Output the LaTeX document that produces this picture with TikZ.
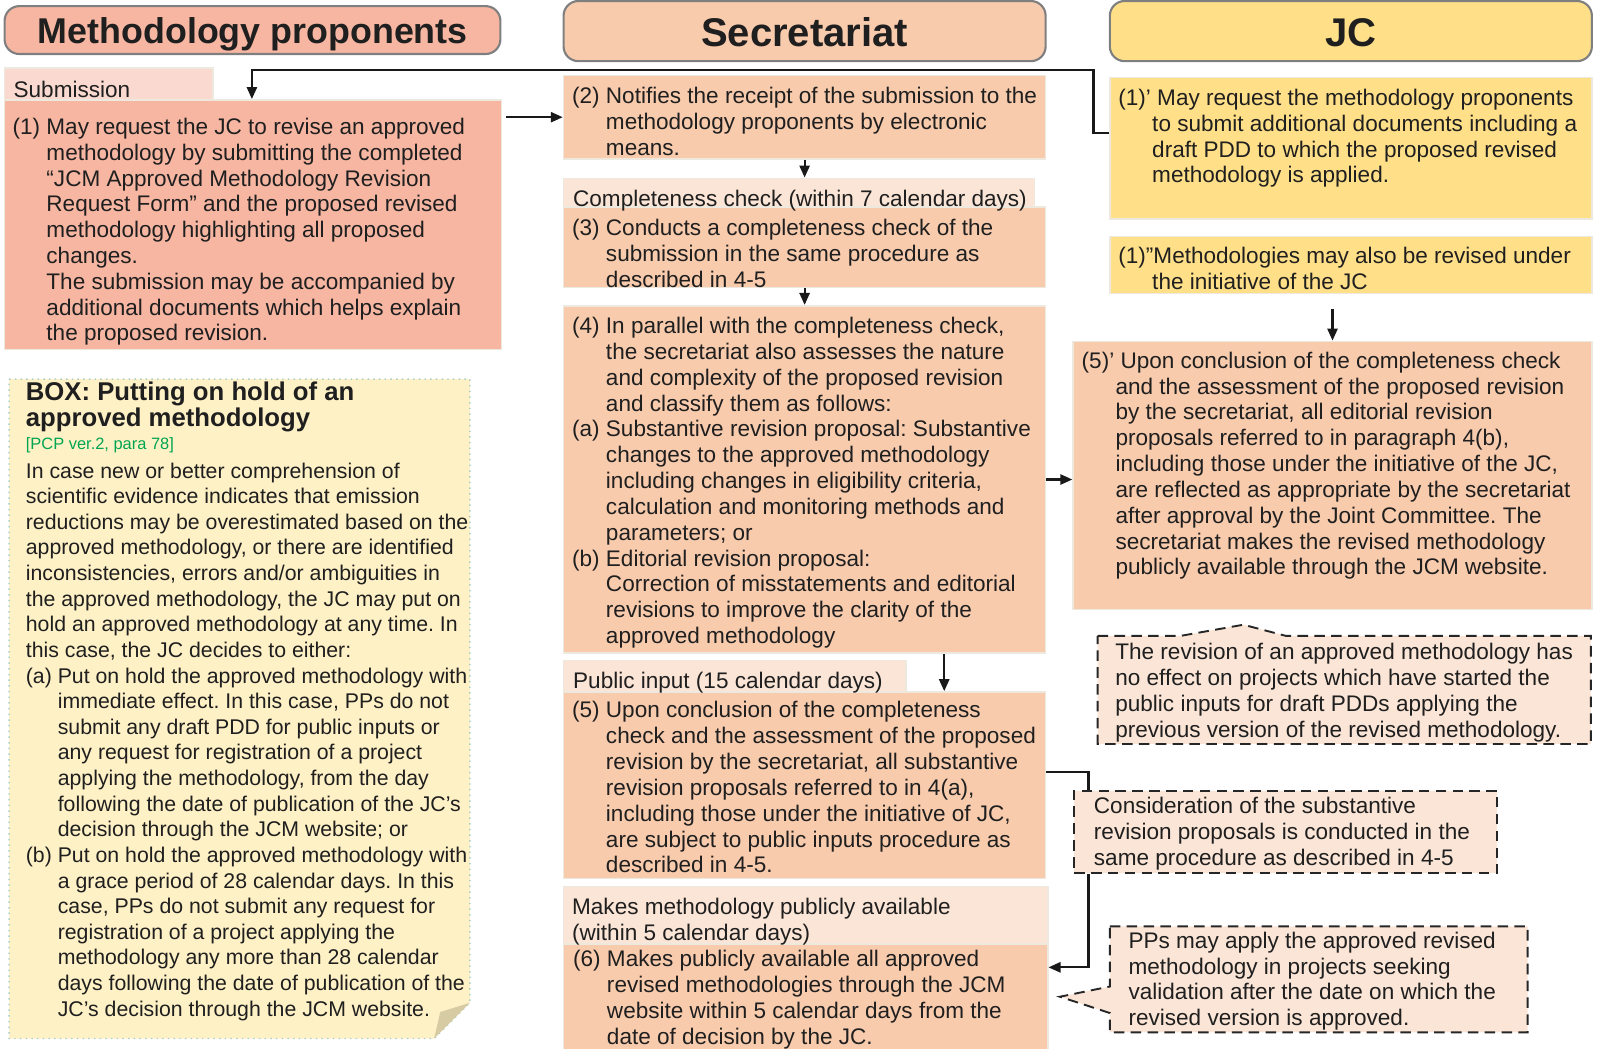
\documentclass[tikz,border=0pt]{standalone}
\usepackage{fontspec}
\setmainfont{Liberation Sans}
\usepackage{xcolor}
\usepackage{tikz}
\usetikzlibrary{arrows.meta,fit,calc}
\definecolor{salmon}{HTML}{F6B6A2}
\definecolor{salmonlight}{HTML}{FADAD0}
\definecolor{peach}{HTML}{F8CBAD}
\definecolor{peachlight}{HTML}{FBE5D6}
\definecolor{jcyellow}{HTML}{FFDF88}
\definecolor{cream}{HTML}{FFF1C6}
\definecolor{foldtan}{HTML}{D6CBA2}
\definecolor{edgegray}{HTML}{7F7F7F}
\definecolor{boxedge}{HTML}{EEE9DE}
\definecolor{refgreen}{HTML}{00A551}
\definecolor{dotteal}{HTML}{A9CFC6}
\newcommand{\refnote}[1]{\textcolor{refgreen}{#1}}
\newcommand{\tabin}{\hspace*{1.5em}}
\frenchspacing

\begin{document}
\begin{tikzpicture}[x=0.017cm,y=-0.017cm,
    head/.style={draw=edgegray,line width=1pt,rounded corners=7pt,inner sep=0pt},
    headtxt/.style={anchor=base,inner sep=0pt,text=black!88,font=\bfseries\fontsize{19}{22}\selectfont},
    box/.style={draw=boxedge,line width=0.8pt,inner sep=0pt},
    txt/.style={anchor=north west,inner sep=0pt,align=left,text=black!88,font=\fontsize{10.7}{12.25}\selectfont},
    note/.style={draw=black!85,line width=0.9pt,dash pattern=on 5pt off 3pt,fill=peachlight},
    arr/.style={-{Triangle[length=2mm,width=1.7mm]},line width=1pt,draw=black!90},
    link/.style={line width=1pt,draw=black!90}]
            \useasboundingbox (0,0) rectangle (1568,1029);
            % column heads
            \node[head,fill=salmon,fit={(4.5,6) (491,53)}] (1) {};
            \node[head,fill=peach,fit={(553,1) (1026,60)}] (2) {};
            \node[head,fill=jcyellow,fit={(1089,1) (1562,60)}] (3) {};
            \node[headtxt,font=\bfseries\fontsize{17}{20}\selectfont] (37) at (248,43) {Methodology proponents};
            \node[headtxt] (38) at (789.5,46) {Secretariat};
            \node[headtxt] (39) at (1325.5,46) {JC};
            % boxes
            \node[box,fill=salmonlight,fit={(4.5,67) (209,98)}] (4) {};
            \node[box,fill=salmon,fit={(4.5,98) (492,343)}] (6) {};
            \node[box,fill=peach,fit={(553,74) (1026,156)}] (8) {};
            \node[box,fill=peachlight,fit={(553,175) (1015,203)}] (10) {};
            \node[box,fill=peach,fit={(553,203) (1026,282)}] (12) {};
            \node[box,fill=peach,fit={(553,300) (1026,641)}] (14) {};
            \node[box,fill=peachlight,fit={(553,648) (889,679)}] (16) {};
            \node[box,fill=peach,fit={(553,679) (1026,862)}] (18) {};
            \node[box,fill=peachlight,fit={(553,870) (1028,926)}] (20) {};
            \node[box,fill=peach,fit={(553,926) (1028,1031)}] (22) {};
            \node[box,fill=jcyellow,fit={(1089,76) (1562,215)}] (24) {};
            \node[box,fill=jcyellow,fit={(1089,232) (1562,288)}] (26) {};
            \node[box,fill=peach,fit={(1053,335) (1562,598)}] (28) {};
            \node[note,inner sep=0pt,fit={(1054,776) (1469,857)}] (31) {};
            \draw[note] (1077,624) -- (1158,624) -- (1220,613) -- (1262,624) -- (1561,624) -- (1561,730) -- (1077,730) -- cycle;
            \draw[note] (1089,909) -- (1499,909) -- (1499,1013) -- (1089,1013) -- (1089,994) -- (1040,978) -- (1089,968) -- cycle;
            \draw[fill=cream,draw=dotteal,dotted,line width=0.7pt] (9,372) -- (461,372) -- (461,984) -- (426,1019) -- (9,1019) -- cycle;
            \fill[foldtan] (461,984) -- (432,993) -- (426,1019) -- cycle;
            % connectors
            \draw[arr,shorten <=0.07cm] (6.east |- 8.west) -- (8.west);
            \draw[arr] ($(24.north west)+(0,55)$) -| (1073,69) -| ($(6.north west)+(243.5,0)$);
            \draw[arr] (8.south) -- (8.south |- 10.north);
            \draw[arr] (12.south) -- (14.north);
            \draw[arr] ($(14.south)+(137,0)$) -- ($(18.north)+(137,0)$);
            \draw[arr] (14.east) -- (14.east -| 28.west);
            \draw[arr,shorten <=0.24cm] (26.south -| 28.north) -- (28.north);
            \draw[link] ($(18.north east)+(0,79)$) -| ($(31.north west)+(15,0)$);
            \draw[arr] ($(31.south west)+(15,0)$) |- ($(22.north east)+(0,24)$);
            % texts
            \node[txt] (5) at (13,79) {Submission};
            \node[txt] (7) at (12,115.5) {(1) May request the JC to revise an approved\\
                \tabin methodology by submitting the completed\\
                \tabin “JCM Approved Methodology Revision\\
                \tabin Request Form” and the proposed revised\\
                \tabin methodology highlighting all proposed\\
                \tabin changes.\\
                \tabin The submission may be accompanied by\\
                \tabin additional documents which helps explain\\
                \tabin the proposed revision.};
            \node[txt] (9) at (561,85) {(2) Notifies the receipt of the submission to the\\
                \tabin methodology proponents by electronic\\
                \tabin means.};
            \node[txt] (11) at (562,186) {Completeness check (within 7 calendar days)};
            \node[txt] (13) at (561,215) {(3) Conducts a completeness check of the\\
                \tabin submission in the same procedure as\\
                \tabin described in 4-5};
            \node[txt] (15) at (561,311) {(4) In parallel with the completeness check,\\
                \tabin the secretariat also assesses the nature\\
                \tabin and complexity of the proposed revision\\
                \tabin and classify them as follows:\\
                (a) Substantive revision proposal: Substantive\\
                \tabin changes to the approved methodology\\
                \tabin including changes in eligibility criteria,\\
                \tabin calculation and monitoring methods and\\
                \tabin parameters; or\\
                (b) Editorial revision proposal:\\
                \tabin Correction of misstatements and editorial\\
                \tabin revisions to improve the clarity of the\\
                \tabin approved methodology};
            \node[txt] (17) at (562,659) {Public input (15 calendar days)};
            \node[txt] (19) at (561,688) {(5) Upon conclusion of the completeness\\
                \tabin check and the assessment of the proposed\\
                \tabin revision by the secretariat, all substantive\\
                \tabin revision proposals referred to in 4(a),\\
                \tabin including those under the initiative of JC,\\
                \tabin are subject to public inputs procedure as\\
                \tabin described in 4-5.};
            \node[txt] (21) at (561,881) {Makes methodology publicly available\\(within 5 calendar days)};
            \node[txt] (23) at (562,932) {(6) Makes publicly available all approved\\
                \tabin revised methodologies through the JCM\\
                \tabin website within 5 calendar days from the\\
                \tabin date of decision by the JC.};
            \node[txt] (25) at (1097,87) {(1)’ May request the methodology proponents\\
                \tabin to submit additional documents including a\\
                \tabin draft PDD to which the proposed revised\\
                \tabin methodology is applied.};
            \node[txt] (27) at (1097,242) {(1)”Methodologies may also be revised under\\
                \tabin the initiative of the JC};
            \node[txt] (29) at (1061,345) {(5)’ Upon conclusion of the completeness check\\
                \tabin and the assessment of the proposed revision\\
                \tabin by the secretariat, all editorial revision\\
                \tabin proposals referred to in paragraph 4(b),\\
                \tabin including those under the initiative of the JC,\\
                \tabin are reflected as appropriate by the secretariat\\
                \tabin after approval by the Joint Committee. The\\
                \tabin secretariat makes the revised methodology\\
                \tabin publicly available through the JCM website.};
            \node[txt] (30) at (1094,631) {The revision of an approved methodology has\\
                no effect on projects which have started the\\
                public inputs for draft PDDs applying the\\
                previous version of the revised methodology.};
            \node[txt] (32) at (1073,782) {Consideration of the substantive\\
                revision proposals is conducted in the\\
                same procedure as described in 4-5};
            \node[txt] (33) at (1107,914) {PPs may apply the approved revised\\
                methodology in projects seeking\\
                validation after the date on which the\\
                revised version is approved.};
            \node[txt,font=\bfseries\fontsize{12.2}{12.3}\selectfont] (34) at (25,374.5) {BOX: Putting on hold of an\\approved methodology};
            \node[txt,font=\fontsize{7.8}{9}\selectfont] (35) at (25,429) {\refnote{[PCP ver.2, para 78]}};
            \node[txt,font=\fontsize{10.1}{12.16}\selectfont] (36) at (25,453.5) {In case new or better comprehension of\\
                scientific evidence indicates that emission\\
                reductions may be overestimated based on the\\
                approved methodology, or there are identified\\
                inconsistencies, errors and/or ambiguities in\\
                the approved methodology, the JC may put on\\
                hold an approved methodology at any time. In\\
                this case, the JC decides to either:\\
                (a) Put on hold the approved methodology with\\
                \tabin immediate effect. In this case, PPs do not\\
                \tabin submit any draft PDD for public inputs or\\
                \tabin any request for registration of a project\\
                \tabin applying the methodology, from the day\\
                \tabin following the date of publication of the JC’s\\
                \tabin decision through the JCM website; or\\
                (b) Put on hold the approved methodology with\\
                \tabin a grace period of 28 calendar days. In this\\
                \tabin case, PPs do not submit any request for\\
                \tabin registration of a project applying the\\
                \tabin methodology any more than 28 calendar\\
                \tabin days following the date of publication of the\\
                \tabin JC’s decision through the JCM website.};
        \end{tikzpicture}
\end{document}
